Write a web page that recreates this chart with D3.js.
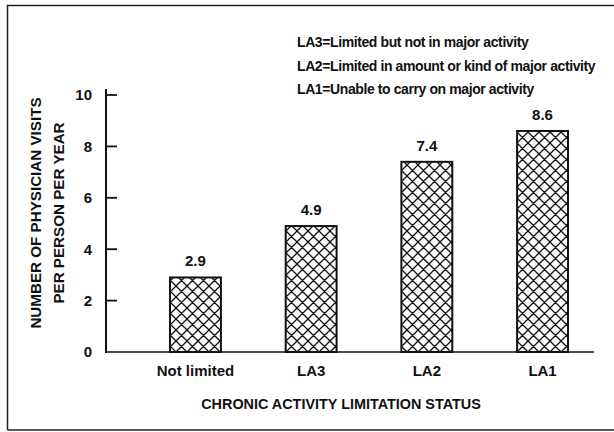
<!DOCTYPE html>
<html><head><meta charset="utf-8">
<script src="https://cdn.jsdelivr.net/npm/d3@7"></script>
<style>
body{margin:0;background:#fff;}
text{font-family:"Liberation Sans",Arial,sans-serif;fill:#111;font-weight:bold;}
</style></head>
<body><svg id="c" width="614" height="432"></svg>
<script>
const categories = ["Not limited","LA3","LA2","LA1"];
const values = [2.9, 4.9, 7.4, 8.6];
const valueLabels = ["2.9","4.9","7.4","8.6"];
const yTicks = [0,2,4,6,8,10];
const legendLines = [
  "LA3=Limited but not in major activity",
  "LA2=Limited in amount or kind of major activity",
  "LA1=Unable to carry on major activity"
];
const yTitle = ["NUMBER OF PHYSICIAN VISITS","PER PERSON PER YEAR"];
const xTitle = "CHRONIC ACTIVITY LIMITATION STATUS";

const svg = d3.select("#c");
const defs = svg.append("defs");
const pat = defs.append("pattern").attr("id","hatch").attr("patternUnits","userSpaceOnUse")
  .attr("width",11).attr("height",11);
pat.append("rect").attr("width",11).attr("height",11).attr("fill","#fff");
pat.append("path").attr("d","M-1,1 L1,-1 M0,11 L11,0 M10,12 L12,10 M-1,10 L1,12 M0,0 L11,11 M10,-1 L12,1")
  .attr("stroke","#111").attr("stroke-width",1.3);

// frame
svg.append("path").attr("d","M7.5,430 L7.5,5.5 L614,5.5 M7.5,430 L614,430")
  .attr("fill","none").attr("stroke","#222").attr("stroke-width",1.5);

const y = d3.scaleLinear().domain([0,10]).range([352,95]);
const x = d3.scaleBand().domain(categories).range([137.6,600.4]).paddingInner(0.56).paddingOuter(0.28);

// y axis
const yAxis = d3.axisLeft(y).tickValues(yTicks).tickSize(0).tickPadding(14).tickFormat(d3.format("d"));
const gy = svg.append("g").attr("transform","translate(106,0)").call(yAxis);
gy.select(".domain").remove();
gy.selectAll("text").attr("font-size",15).attr("font-weight","bold").attr("fill","#111")
  .style("font-family","Liberation Sans, Arial, sans-serif");
svg.append("line").attr("x1",106).attr("x2",106).attr("y1",89).attr("y2",353).attr("stroke","#111").attr("stroke-width",2);
svg.selectAll(".yt").data(yTicks.filter(d=>d>0)).join("line").attr("class","yt")
  .attr("x1",106).attr("x2",117).attr("y1",d=>y(d)).attr("y2",d=>y(d)).attr("stroke","#111").attr("stroke-width",1.8);

// x axis baseline
svg.append("line").attr("x1",105).attr("x2",594).attr("y1",352).attr("y2",352).attr("stroke","#111").attr("stroke-width",1.6);

// bars
svg.selectAll(".bar").data(values).join("rect").attr("class","bar")
  .attr("x",(d,i)=>x(categories[i])).attr("width",x.bandwidth())
  .attr("y",d=>y(d)).attr("height",d=>y(0)-y(d))
  .attr("fill","url(#hatch)").attr("stroke","#111").attr("stroke-width",2);

// value labels
svg.selectAll(".vl").data(values).join("text").attr("class","vl")
  .attr("x",(d,i)=>x(categories[i])+x.bandwidth()/2).attr("y",d=>y(d)-11)
  .attr("text-anchor","middle").attr("font-size",15).text((d,i)=>valueLabels[i]);

// category labels
const xAxis = d3.axisBottom(x).tickSize(0).tickPadding(13);
const gx = svg.append("g").attr("transform","translate(0,352)").call(xAxis);
gx.select(".domain").remove();
gx.selectAll("text").attr("font-size",15).attr("font-weight","bold")
  .style("font-family","Liberation Sans, Arial, sans-serif").attr("fill","#111");

// x title
svg.append("text").attr("x",341).attr("y",409).attr("text-anchor","middle").attr("font-size",14.4).text(xTitle);

// y title
yTitle.forEach((t,i)=>{
  svg.append("text").attr("transform",`translate(${41+i*23},213) rotate(-90)`)
    .attr("text-anchor","middle").attr("font-size",15.2).text(t);
});

// legend
svg.selectAll(".lg").data(legendLines).join("text").attr("class","lg")
  .attr("x",297).attr("y",(d,i)=>47+i*23.5).attr("font-size",14).attr("letter-spacing",-0.4).text(d=>d);
</script></body></html>
